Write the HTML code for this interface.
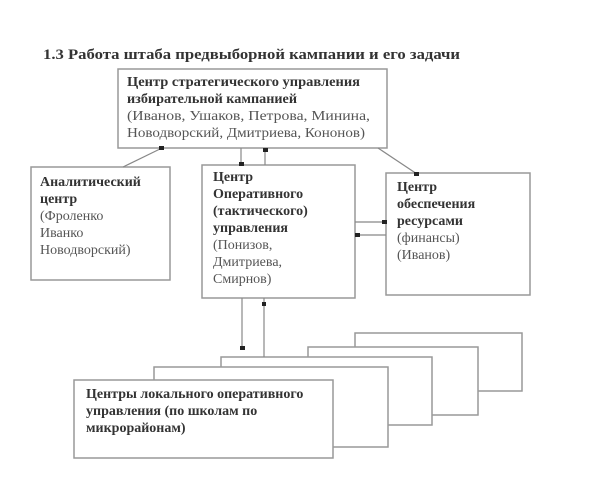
<!DOCTYPE html>
<html><head><meta charset="utf-8"><style>
body{margin:0;background:#fff;}
svg text{font-family:"Liberation Serif",serif;font-size:14px;fill:#555;}
.b{font-weight:bold;fill:#333;}
</style></head><body>
<svg width="600" height="483" xmlns="http://www.w3.org/2000/svg">
<g fill="#fff" stroke="#999" stroke-width="1.5">
<rect x="355" y="333" width="167" height="58"/>
<rect x="308" y="347" width="170" height="68"/>
<rect x="221" y="357" width="211" height="68"/>
<rect x="154" y="367" width="234" height="80"/>
<rect x="74" y="380" width="259" height="78"/>
<rect x="118" y="69" width="269" height="79"/>
<rect x="31" y="167" width="139" height="113"/>
<rect x="202" y="165" width="153" height="133"/>
<rect x="386" y="173" width="144" height="122"/>
</g>
<g stroke="#888" stroke-width="1.2" fill="none">
<line x1="123" y1="167" x2="162" y2="148"/>
<line x1="378" y1="148" x2="417" y2="174"/>
<line x1="241" y1="148" x2="241" y2="165"/>
<line x1="265" y1="148" x2="265" y2="165"/>
<line x1="355" y1="222" x2="386" y2="222"/>
<line x1="355" y1="235" x2="386" y2="235"/>
<line x1="242" y1="298" x2="242" y2="350"/>
<line x1="264" y1="298" x2="264" y2="357"/>
</g>
<g fill="#222">
<rect x="159" y="146" width="5" height="4"/>
<rect x="239" y="162" width="5" height="4"/>
<rect x="263" y="148" width="5" height="4"/>
<rect x="414" y="172" width="5" height="4"/>
<rect x="382" y="220" width="5" height="4"/>
<rect x="355" y="233" width="5" height="4"/>
<rect x="240" y="346" width="5" height="4"/>
<rect x="262" y="302" width="4" height="4"/>
</g>
<text x="43" y="59" class="b" style="font-size:15px" textLength="417" lengthAdjust="spacingAndGlyphs">1.3 Работа штаба предвыборной кампании и его задачи</text>
<text x="127" y="86" class="b" textLength="233" lengthAdjust="spacingAndGlyphs">Центр стратегического управления</text>
<text x="127" y="103" class="b" textLength="170" lengthAdjust="spacingAndGlyphs">избирательной кампанией</text>
<text x="127" y="120" textLength="243" lengthAdjust="spacingAndGlyphs">(Иванов, Ушаков, Петрова, Минина,</text>
<text x="127" y="137" textLength="238" lengthAdjust="spacingAndGlyphs">Новодворский, Дмитриева, Кононов)</text>
<text x="40" y="186" class="b">Аналитический</text>
<text x="40" y="203" class="b">центр</text>
<text x="40" y="220">(Фроленко</text>
<text x="40" y="237">Иванко</text>
<text x="40" y="254">Новодворский)</text>
<text x="213" y="181" class="b">Центр</text>
<text x="213" y="198" class="b">Оперативного</text>
<text x="213" y="215" class="b">(тактического)</text>
<text x="213" y="232" class="b">управления</text>
<text x="213" y="249">(Понизов,</text>
<text x="213" y="266">Дмитриева,</text>
<text x="213" y="283">Смирнов)</text>
<text x="397" y="191" class="b">Центр</text>
<text x="397" y="208" class="b">обеспечения</text>
<text x="397" y="225" class="b">ресурсами</text>
<text x="397" y="242">(финансы)</text>
<text x="397" y="259">(Иванов)</text>
<text x="86" y="398" class="b">Центры локального оперативного</text>
<text x="86" y="415" class="b">управления (по школам по</text>
<text x="86" y="432" class="b">микрорайонам)</text>
</svg>
</body></html>
